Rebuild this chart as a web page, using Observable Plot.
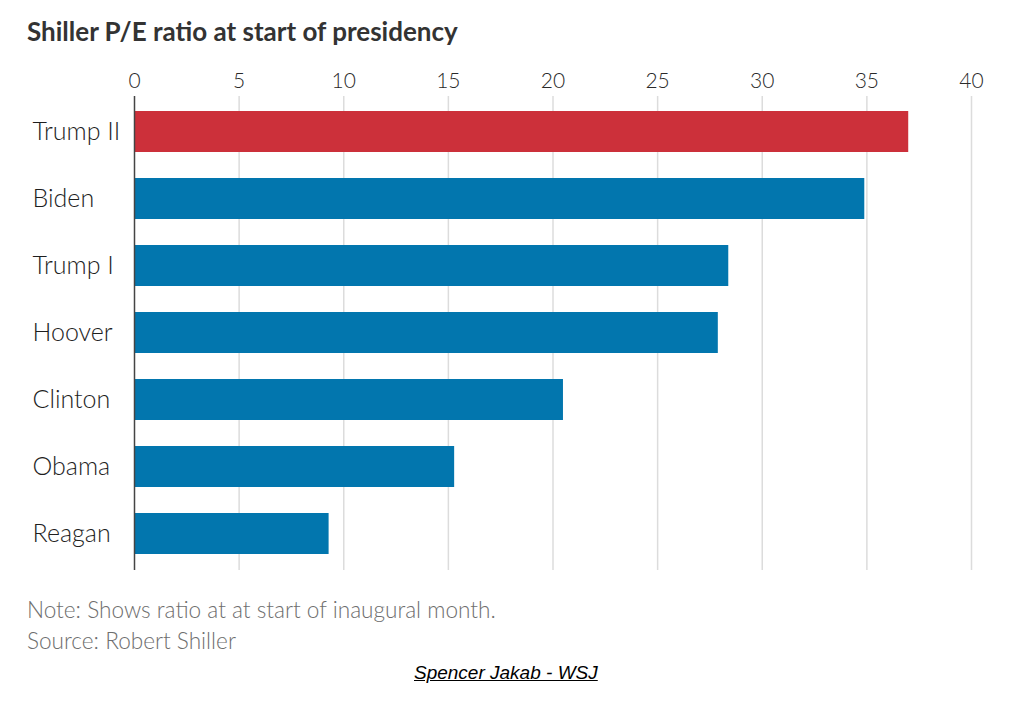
<!DOCTYPE html>
<html>
<head>
<meta charset="utf-8">
<script src="https://cdn.jsdelivr.net/npm/d3@7"></script>
<script src="https://cdn.jsdelivr.net/npm/@observablehq/plot@0.6"></script>
<style>
  html, body { margin: 0; padding: 0; background: #fff; }
  #wrap { position: relative; width: 1034px; height: 714px; overflow: hidden; }
  .title { position: absolute; left: 27px; top: 15px; font-family: Lato, sans-serif; font-weight: 700; font-size: 26px; color: #333; white-space: nowrap; }
  .note { position: absolute; left: 27px; font-family: Lato, sans-serif; font-weight: 300; font-size: 22.6px; color: #6e6e6e; white-space: nowrap; }
  .credit { position: absolute; left: 414px; top: 662px; font-family: "Liberation Sans", Arial, sans-serif; font-style: italic; text-decoration: underline; font-size: 19px; color: #000; white-space: nowrap; }
  #chart { position: absolute; left: 0; top: 48px; }
</style>
</head>
<body>
<div id="wrap">
  <div class="title">Shiller P/E ratio at start of presidency</div>
  <div id="chart"></div>
  <div class="note" style="top:596px">Note: Shows ratio at at start of inaugural month.</div>
  <div class="note" style="top:627px">Source: Robert Shiller</div>
  <div class="credit">Spencer Jakab - WSJ</div>
</div>
<script>
const presidents = ["Trump II", "Biden", "Trump I", "Hoover", "Clinton", "Obama", "Reagan"];
const peRatios = [37.0, 34.9, 28.4, 27.9, 20.5, 15.3, 9.3];
const highlighted = "Trump II";
const xTicks = [0, 5, 10, 15, 20, 25, 30, 35, 40];
const gridTicks = [5, 10, 15, 20, 25, 30, 35, 40];

const data = presidents.map((name, i) => ({name, value: peRatios[i]}));

const chart = Plot.plot({
  width: 1034,
  height: 532,
  marginTop: 48,
  marginBottom: 10,
  marginLeft: 134,
  marginRight: 63,
  style: {fontFamily: "Lato, sans-serif", background: "transparent"},
  x: {domain: [0, 40]},
  y: {domain: presidents, paddingInner: 0.385, paddingOuter: 0.19, axis: null},
  marks: [
    Plot.gridX(gridTicks, {stroke: "#dcdcdc", strokeOpacity: 1, strokeWidth: 1.5}),
    Plot.barX(data, {
      y: "name",
      x: "value",
      fill: d => d.name === highlighted ? "#cc303a" : "#0276ae"
    }),
    Plot.ruleX([0], {stroke: "#444", strokeWidth: 1.5}),
    Plot.axisX(xTicks, {anchor: "top", tickSize: 0, tickPadding: 9, fontSize: 21, fontWeight: 300, fill: "#2a2a2a", label: null}),
    Plot.text(data, {
      y: "name",
      text: "name",
      frameAnchor: "left",
      dx: -102,
      textAnchor: "start",
      fontSize: 25,
      fontWeight: 300,
      fill: "#1e1e1e"
    })
  ]
});
document.getElementById("chart").appendChild(chart);
</script>
</body>
</html>
